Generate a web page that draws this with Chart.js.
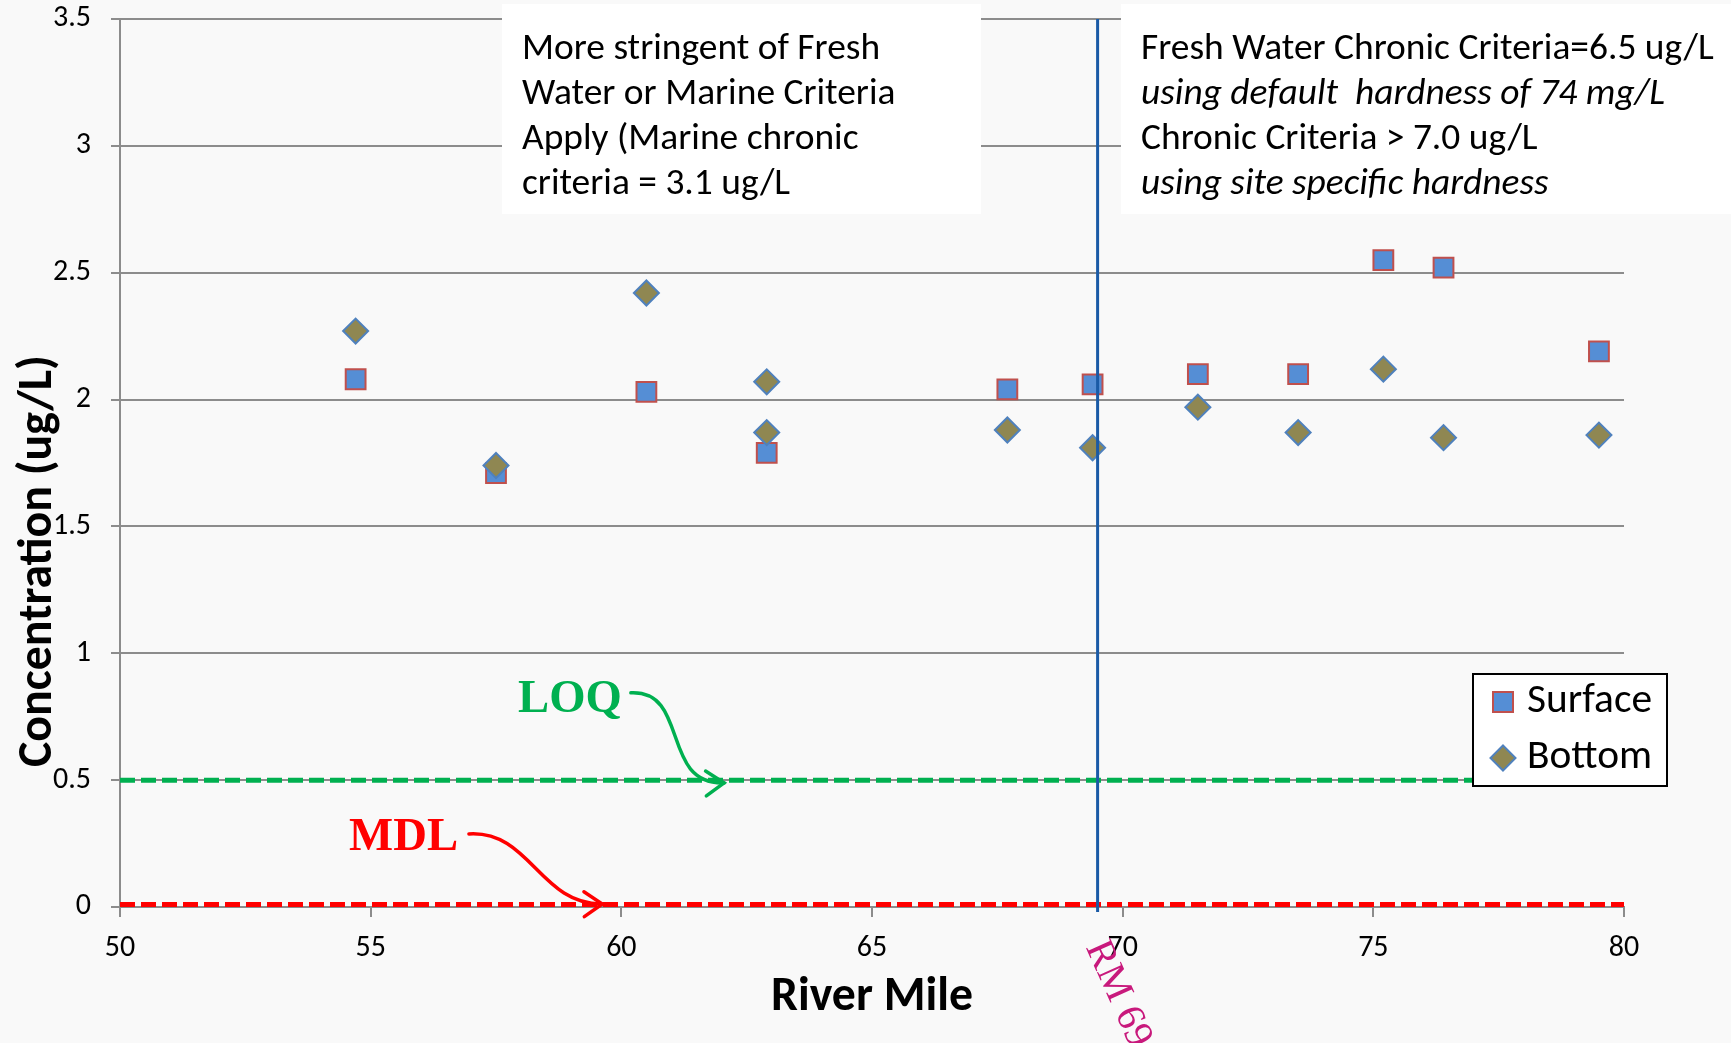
<!DOCTYPE html>
<html>
<head>
<meta charset="utf-8">
<script src="https://cdn.jsdelivr.net/npm/chart.js@4.4.0/dist/chart.umd.min.js"></script>
<style>
  html, body { margin: 0; padding: 0; background: #f9f9f9; }
  #wrap { width: 1731px; height: 1043px; }
</style>
</head>
<body>
<div id="wrap"><canvas id="chart" width="1731" height="1043"></canvas></div>
<script>
// Sample river miles and concentrations (ug/L)
const surfaceMiles = [54.7, 57.5, 60.5, 62.9, 67.7, 69.4, 71.5, 73.5, 75.2, 76.4, 79.5];
const surfaceConc  = [2.08, 1.71, 2.03, 1.79, 2.04, 2.06, 2.10, 2.10, 2.55, 2.52, 2.19];
const bottomMiles  = [54.7, 57.5, 60.5, 62.9, 62.9, 67.7, 69.4, 71.5, 73.5, 75.2, 76.4, 79.5];
const bottomConc   = [2.27, 1.74, 2.42, 2.07, 1.87, 1.88, 1.81, 1.97, 1.87, 2.12, 1.85, 1.86];

// Reference levels
const loqValue = 0.5;
const mdlValue = 0.01;
const rmLine = 69.5;

// Axis ticks
const xTicks = [50, 55, 60, 65, 70, 75, 80];
const yTicks = [0, 0.5, 1, 1.5, 2, 2.5, 3, 3.5];

// Text
const leftNote = ['More stringent of Fresh', 'Water or Marine Criteria', 'Apply (Marine chronic', 'criteria = 3.1 ug/L'];
const rightNote = ['Fresh Water Chronic Criteria=6.5 ug/L', 'using default  hardness of 74 mg/L', 'Chronic Criteria > 7.0 ug/L', 'using site specific hardness'];
const rightItalic = [false, true, false, true];

const FONT = 'Carlito, Lato, "Open Sans", sans-serif';
const SERIF = '"Liberation Serif", "Times New Roman", serif';

// measure helper: font size that gives a text a certain width
const probe = document.createElement('canvas').getContext('2d');
function fitSize(text, width, weight, style, family) {
    probe.font = `${style} ${weight} 100px ${family}`;
    return 100 * width / probe.measureText(text).width;
}

const tickSize = fitSize('3.5', 38, 'normal', 'normal', FONT);
const titleSize = fitSize('Concentration (ug/L)', 412, 'bold', 'normal', FONT);
const noteSize = fitSize(rightNote[0], 573, 'normal', 'normal', FONT);
const legendSize = fitSize('Surface', 125, 'normal', 'normal', FONT);
const markSize = fitSize('MDL', 109, 'bold', 'normal', SERIF);

const surfaceStyle = { pointStyle: 'rect', pointRadius: 14, backgroundColor: '#558ed5', borderColor: '#c0504d', borderWidth: 2 };
const bottomStyle = { pointStyle: 'rectRot', pointRadius: 12.5, backgroundColor: '#8f8752', borderColor: '#4f81bd', borderWidth: 2 };

// white note boxes hiding the grid
const notesBack = {
    id: 'notesBack',
    beforeDraw(chart) {
        const ctx = chart.ctx;
        ctx.save();
        ctx.fillStyle = '#f9f9f9';
        ctx.fillRect(0, 0, chart.width, chart.height);
        ctx.restore();
    },
    beforeDatasetsDraw(chart) {
        const ctx = chart.ctx;
        ctx.save();
        ctx.fillStyle = '#ffffff';
        ctx.fillRect(502, 4, 479, 210);
        ctx.fillRect(1121, 4, 610, 210);
        ctx.restore();
    }
};

function arrow(ctx, xs, ys, pts, color) {
    const p = pts.map(([x, y]) => [xs.getPixelForValue(x), ys.getPixelForValue(y)]);
    ctx.strokeStyle = color;
    ctx.lineWidth = 3.5;
    ctx.lineCap = 'round';
    ctx.beginPath();
    ctx.moveTo(p[0][0], p[0][1]);
    ctx.bezierCurveTo(p[1][0], p[1][1], p[2][0], p[2][1], p[3][0], p[3][1]);
    ctx.stroke();
    const ang = Math.atan2(p[3][1] - p[2][1], p[3][0] - p[2][0]);
    ctx.beginPath();
    ctx.moveTo(p[3][0] - 22 * Math.cos(ang - 0.6), p[3][1] - 22 * Math.sin(ang - 0.6));
    ctx.lineTo(p[3][0], p[3][1]);
    ctx.lineTo(p[3][0] - 22 * Math.cos(ang + 0.6), p[3][1] - 22 * Math.sin(ang + 0.6));
    ctx.stroke();
}

const labels = {
    id: 'labels',
    afterDraw(chart) {
        const ctx = chart.ctx;
        const xs = chart.scales.x, ys = chart.scales.y;
        ctx.save();
        ctx.fillStyle = '#000';

        // axis titles
        ctx.font = `bold ${titleSize}px ${FONT}`;
        ctx.textAlign = 'center';
        ctx.textBaseline = 'alphabetic';
        ctx.fillText('River Mile', (chart.chartArea.left + chart.chartArea.right) / 2, 1010);
        ctx.save();
        ctx.translate(51, 561);
        ctx.rotate(-Math.PI / 2);
        ctx.fillText('Concentration (ug/L)', 0, 0);
        ctx.restore();

        // criteria notes
        ctx.textAlign = 'left';
        ctx.textBaseline = 'middle';
        leftNote.forEach((t, i) => {
            ctx.font = `normal ${noteSize}px ${FONT}`;
            ctx.fillText(t, 522, 50 + i * 45);
        });
        rightNote.forEach((t, i) => {
            ctx.font = `${rightItalic[i] ? 'italic' : 'normal'} ${noteSize}px ${FONT}`;
            ctx.fillText(t, 1141, 50 + i * 45);
        });

        // LOQ / MDL labels with arrows
        ctx.textBaseline = 'alphabetic';
        ctx.font = `bold ${markSize}px ${SERIF}`;
        ctx.fillStyle = '#00b050';
        ctx.fillText('LOQ', xs.getPixelForValue(57.94), ys.getPixelForValue(0.769));
        ctx.fillStyle = '#ff0000';
        ctx.fillText('MDL', xs.getPixelForValue(54.57), ys.getPixelForValue(0.225));
        arrow(ctx, xs, ys, [[60.19, 0.844], [61.37, 0.855], [60.77, 0.481], [62.05, 0.489]], '#00b050');
        arrow(ctx, xs, ys, [[56.96, 0.288], [58.18, 0.303], [58.38, 0.008], [59.62, 0.012]], '#ff0000');

        // RM label under the vertical line
        ctx.save();
        ctx.translate(xs.getPixelForValue(rmLine) - 12, chart.chartArea.bottom + 40);
        ctx.rotate(66 * Math.PI / 180);
        ctx.font = `normal 40px ${SERIF}`;
        ctx.fillStyle = '#c8197c';
        ctx.fillText('RM 69', 0, 0);
        ctx.restore();

        // legend
        ctx.fillStyle = '#ffffff';
        ctx.fillRect(1473, 674, 194, 112);
        ctx.strokeStyle = '#000';
        ctx.lineWidth = 2;
        ctx.strokeRect(1473, 674, 194, 112);
        [[surfaceStyle, 'Surface', 702], [bottomStyle, 'Bottom', 758]].forEach(([st, name, y]) => {
            ctx.fillStyle = st.backgroundColor;
            ctx.strokeStyle = st.borderColor;
            ctx.lineWidth = st.borderWidth;
            ctx.beginPath();
            if (st.pointStyle === 'rect') {
                ctx.rect(1493, y - 10, 20, 20);
            } else {
                ctx.moveTo(1503, y - 12.5);
                ctx.lineTo(1515.5, y);
                ctx.lineTo(1503, y + 12.5);
                ctx.lineTo(1490.5, y);
                ctx.closePath();
            }
            ctx.fill();
            ctx.stroke();
            ctx.fillStyle = '#000';
            ctx.font = `normal ${legendSize}px ${FONT}`;
            ctx.textBaseline = 'middle';
            ctx.fillText(name, 1527, y);
        });
        ctx.restore();
    }
};

const gridColor = '#8c8c8c';

const chart = new Chart(document.getElementById('chart'), {
    type: 'scatter',
    data: {
        datasets: [
            {
                label: 'RM ' + rmLine, type: 'line',
                data: [{ x: rmLine, y: -0.02 }, { x: rmLine, y: 3.5 }],
                borderColor: '#1a5aa6', borderWidth: 3, pointRadius: 0, clip: false
            },
            Object.assign({ label: 'Bottom', data: bottomMiles.map((x, i) => ({ x, y: bottomConc[i] })) }, bottomStyle),
            Object.assign({ label: 'Surface', data: surfaceMiles.map((x, i) => ({ x, y: surfaceConc[i] })) }, surfaceStyle),
            {
                label: 'LOQ', type: 'line',
                data: [{ x: 50, y: loqValue }, { x: 80, y: loqValue }],
                borderColor: '#00b050', borderWidth: 5, borderDash: [15, 6], pointRadius: 0, clip: false
            },
            {
                label: 'MDL', type: 'line',
                data: [{ x: 50, y: mdlValue }, { x: 80, y: mdlValue }],
                borderColor: '#ff0000', borderWidth: 5, borderDash: [15, 6], pointRadius: 0, clip: false
            }
        ]
    },
    options: {
        responsive: false,
        animation: false,
        events: [],
        layout: { padding: { left: 0, top: 19, right: 107, bottom: 0 } },
        plugins: { legend: { display: false }, tooltip: { enabled: false } },
        scales: {
            x: {
                type: 'linear', min: 50, max: 80,
                afterBuildTicks: s => { s.ticks = xTicks.map(v => ({ value: v })); },
                afterFit: s => { s.height = 136; s.paddingLeft = 0; s.paddingRight = 0; },
                grid: { drawOnChartArea: false, drawTicks: true, tickLength: 10, color: gridColor, lineWidth: 2 },
                border: { display: true, color: gridColor, width: 2 },
                ticks: { color: '#000', padding: 13, maxRotation: 0, font: { family: FONT, size: tickSize }, callback: v => String(v) }
            },
            y: {
                type: 'linear', min: 0, max: 3.5,
                afterBuildTicks: s => { s.ticks = yTicks.map(v => ({ value: v })); },
                afterFit: s => { s.width = 120; s.paddingTop = 0; s.paddingBottom = 0; },
                grid: { drawTicks: true, tickLength: 9, color: gridColor, lineWidth: 2 },
                border: { display: true, color: gridColor, width: 2 },
                ticks: { color: '#000', padding: 20, font: { family: FONT, size: tickSize }, callback: v => String(v) }
            }
        }
    },
    plugins: [notesBack, labels]
});
</script>
</body>
</html>
